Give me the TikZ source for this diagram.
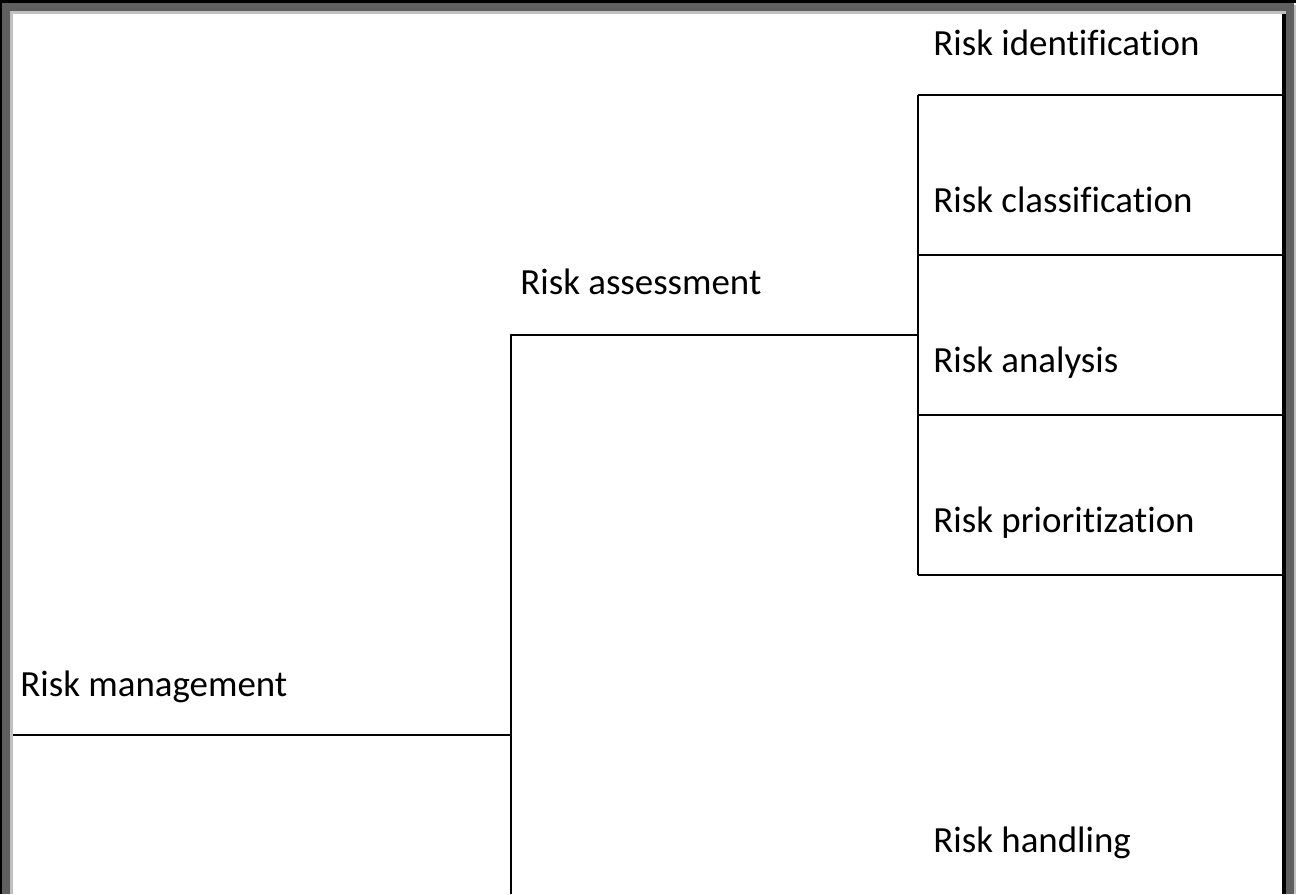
\documentclass[tikz,border=0pt]{standalone}
\usepackage{fontspec}
\setmainfont[Ligatures=CommonOff]{Carlito}
\usepackage{xcolor}
\usepackage{tikz}
\usetikzlibrary{
  positioning,
  calc
}
\definecolor{FrameDark}{HTML}{5F5F5F}
\definecolor{FrameLight}{HTML}{C0C0C0}
\tikzset{
  riskitem/.style={
    anchor=base west,
    inner sep=0pt,
    font=\fontsize{21}{25}\selectfont
  },
  bracket/.style={
    line width=0.05cm,
    line join=miter
  }
}

\begin{document}
\begin{tikzpicture}[x=0.02cm,y=-0.02cm]

  \useasboundingbox (0,0) rectangle (1296,894);
  \fill[white] (0,0) rectangle (1296,894);

  \fill[black] (0,0) rectangle (1296,3);
  \fill[black] (0,0) rectangle (2,894);
  \fill[FrameDark] (2,3) rectangle (1294,11);
  \fill[FrameDark] (2,3) rectangle (10,894);
  \fill[FrameDark] (1286,3) rectangle (1294,894);
  \fill[FrameLight] (10,11) rectangle (1286,14);
  \fill[FrameLight] (10,11) rectangle (13,894);
  \fill[FrameLight] (1294,5) rectangle (1296,894);
  \fill[black] (1282,14) rectangle (1286,894);

  \node[riskitem] (mgmt) at (20,696) {Risk management};
  \node[riskitem] (assess) at (520,294) {Risk assessment};
  \node[riskitem] (ident) at (933,55) {Risk identification};
  \node[riskitem] (class) at (933,212) {Risk classification};
  \node[riskitem] (analysis) at (933,372) {Risk analysis};
  \node[riskitem] (prior) at (933,532) {Risk prioritization};
  \node[riskitem] (handling) at (933,852) {Risk handling};

  \coordinate (mgmtL) at (13,735);
  \coordinate (mgmtR) at (511,735);
  \coordinate (forkTop) at (511,335);
  \coordinate (forkBot) at (511,894);
  \coordinate (assessR) at (918,335);
  \coordinate (subTop) at (918,95);
  \coordinate (subBot) at (918,575);
  \coordinate (edgeR) at (1282,0);

  \draw[bracket] (mgmtL) -- (mgmtR);
  \draw[bracket] (forkBot) -- (forkTop) -- (assessR);
  \draw[bracket] (subTop) -- (subBot);
  \foreach \y in {95,255,415,575} {
    \draw[bracket] (918,\y) -- (edgeR |- 0,\y);
  }

\end{tikzpicture}
\end{document}
